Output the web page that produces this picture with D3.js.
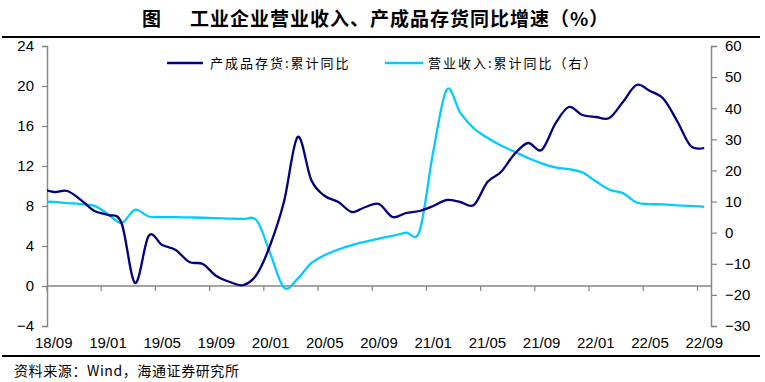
<!DOCTYPE html>
<html>
<head>
<meta charset="utf-8">
<script src="https://cdn.jsdelivr.net/npm/d3@7/dist/d3.min.js"></script>
<style>
  body { margin: 0; background: #fff; }
  svg { display: block; }
  .num { font-family: "Liberation Sans", Arial, sans-serif; font-size: 15px; fill: #000; }
  .cjk { font-family: "Noto Sans CJK SC", sans-serif; fill: #000; }
</style>
</head>
<body>
<div id="chart"></div>
<script>
// months on the category axis (18/08 sits just left of the plot and is clipped)
const months = [
  '18/08', '18/09', '18/10', '18/11', '18/12',
  '19/01', '19/02', '19/03', '19/04', '19/05', '19/06', '19/07', '19/08', '19/09', '19/10', '19/11', '19/12',
  '20/01', '20/02', '20/03', '20/04', '20/05', '20/06', '20/07', '20/08', '20/09', '20/10', '20/11', '20/12',
  '21/01', '21/02', '21/03', '21/04', '21/05', '21/06', '21/07', '21/08', '21/09', '21/10', '21/11', '21/12',
  '22/01', '22/02', '22/03', '22/04', '22/05', '22/06', '22/07', '22/08', '22/09'
];

// 产成品存货:累计同比 (left axis, %)
const inventory = [
  9.8, 9.4, 9.5, 8.6, 7.5,
  7.1, 6.3, 0.3, 5.0, 4.1, 3.6, 2.4, 2.2, 1.0, 0.4, 0.1, 1.2,
  4.2, 8.5, 14.9, 10.6, 9.0, 8.4, 7.4, 7.9, 8.2, 6.9, 7.3, 7.5,
  8.0, 8.6, 8.4, 8.1, 10.4, 11.4, 13.2, 14.3, 13.6, 16.2, 17.9, 17.1,
  16.9, 16.8, 18.4, 20.1, 19.5, 18.7, 16.5, 14.0, 13.8
];

// 营业收入:累计同比 (right axis, %)
const revenue = [
  9.9, 9.9, 9.5, 9.2, 8.6,
  6.0, 3.1, 7.4, 5.2, 5.0, 5.0, 4.9, 4.8, 4.7, 4.5, 4.4, 3.8,
  -7.0, -17.7, -14.8, -9.8, -7.2, -5.4, -4.0, -2.9, -1.9, -1.0, 0.0, 0.6,
  26.0, 46.0, 38.5, 33.5, 30.5, 28.0, 26.0, 24.0, 22.3, 21.0, 20.4, 19.4,
  16.5, 13.8, 12.7, 9.7, 9.2, 9.1, 8.8, 8.6, 8.3
];

const xTickLabels = ['18/09', '19/01', '19/05', '19/09', '20/01', '20/05', '20/09',
  '21/01', '21/05', '21/09', '22/01', '22/05', '22/09'];
const leftTicks = [-4, 0, 4, 8, 12, 16, 20, 24];
const rightTicks = [-30, -20, -10, 0, 10, 20, 30, 40, 50, 60];

const seriesNames = ['产成品存货:累计同比', '营业收入:累计同比（右）'];
const colors = ['#000080', '#00CCFF'];

const width = 765, height = 382;
const plot = { left: 47, right: 711, top: 46, bottom: 326 };
const axisGrey = '#868686';

const svg = d3.select('#chart').append('svg')
  .attr('width', width)
  .attr('height', height);

// title + rules
svg.append('text').attr('class', 'cjk')
  .attr('x', 142).attr('y', 26)
  .style('font-size', '19px').style('font-weight', 'bold')
  .text('图');
svg.append('text').attr('class', 'cjk')
  .attr('x', 190).attr('y', 26)
  .style('font-size', '19px').style('font-weight', 'bold')
  .style('letter-spacing', '1px')
  .text('工业企业营业收入、产成品存货同比增速（%）');
svg.append('line').attr('x1', 2).attr('x2', 760).attr('y1', 37).attr('y2', 37)
  .attr('stroke', '#000').attr('stroke-width', 2);
svg.append('line').attr('x1', 2).attr('x2', 760).attr('y1', 356).attr('y2', 356)
  .attr('stroke', '#000').attr('stroke-width', 2);
svg.append('text').attr('class', 'cjk')
  .attr('x', 14).attr('y', 376)
  .style('font-size', '14px').style('letter-spacing', '0.6px')
  .text('资料来源：Wind，海通证券研究所');

// scales
const x = d3.scaleLinear().domain([0.5, months.length - 0.5]).range([plot.left, plot.right]);
const yLeft = d3.scaleLinear().domain([-4, 24]).range([plot.bottom, plot.top]);
const yRight = d3.scaleLinear().domain([-30, 60]).range([plot.bottom, plot.top]);

// axes
const gl = svg.append('g').attr('transform', `translate(${plot.left},0)`)
  .call(d3.axisLeft(yLeft).tickValues(leftTicks).tickSize(5).tickPadding(8).tickFormat(d3.format('d')));
const gr = svg.append('g').attr('transform', `translate(${plot.right},0)`)
  .call(d3.axisRight(yRight).tickValues(rightTicks).tickSize(6).tickPadding(8).tickFormat(d3.format('d')));
[gl, gr].forEach(g => {
  g.select('.domain').attr('stroke', axisGrey).attr('stroke-width', 1.5);
  g.selectAll('.tick line').attr('stroke', axisGrey).attr('stroke-width', 1.2);
  g.selectAll('.tick text').attr('class', 'num').attr('fill', '#000');
});

// category axis drawn along the left zero line
const y0 = yLeft(0);
svg.append('line')
  .attr('x1', plot.left).attr('x2', plot.right)
  .attr('y1', y0).attr('y2', y0)
  .attr('stroke', axisGrey).attr('stroke-width', 1.5);
const xt = svg.append('g');
xt.selectAll('line').data(xTickLabels).enter().append('line')
  .attr('x1', d => x(months.indexOf(d) - 0.5))
  .attr('x2', d => x(months.indexOf(d) - 0.5))
  .attr('y1', y0).attr('y2', y0 + 5)
  .attr('stroke', axisGrey).attr('stroke-width', 1.2);
xt.selectAll('text').data(xTickLabels).enter().append('text')
  .attr('class', 'num')
  .attr('x', d => x(months.indexOf(d)))
  .attr('y', 348)
  .attr('text-anchor', 'middle')
  .text(d => d);

// lines
svg.append('clipPath').attr('id', 'plotclip').append('rect')
  .attr('x', plot.left).attr('y', plot.top - 10)
  .attr('width', plot.right - plot.left).attr('height', plot.bottom - plot.top + 20);

const curve = d3.curveCardinal.tension(0);
const lineLeft = d3.line().x((d, i) => x(i)).y(d => yLeft(d)).curve(curve);
const lineRight = d3.line().x((d, i) => x(i)).y(d => yRight(d)).curve(curve);

const lines = svg.append('g').attr('clip-path', 'url(#plotclip)');
lines.append('path').datum(revenue)
  .attr('d', lineRight)
  .attr('fill', 'none').attr('stroke', colors[1]).attr('stroke-width', 2.3);
lines.append('path').datum(inventory)
  .attr('d', lineLeft)
  .attr('fill', 'none').attr('stroke', colors[0]).attr('stroke-width', 2.3);

// legend
const legend = [
  { name: seriesNames[0], color: colors[0], x1: 167, x2: 203, tx: 210 },
  { name: seriesNames[1], color: colors[1], x1: 385, x2: 423, tx: 428 }
];
const lg = svg.append('g').selectAll('g').data(legend).enter().append('g');
lg.append('line')
  .attr('x1', d => d.x1).attr('x2', d => d.x2)
  .attr('y1', 63).attr('y2', 63)
  .attr('stroke', d => d.color).attr('stroke-width', 2.3);
lg.append('text').attr('class', 'cjk')
  .attr('x', d => d.tx).attr('y', 68)
  .style('font-size', '13px').style('letter-spacing', '2px')
  .text(d => d.name);
</script>
</body>
</html>
